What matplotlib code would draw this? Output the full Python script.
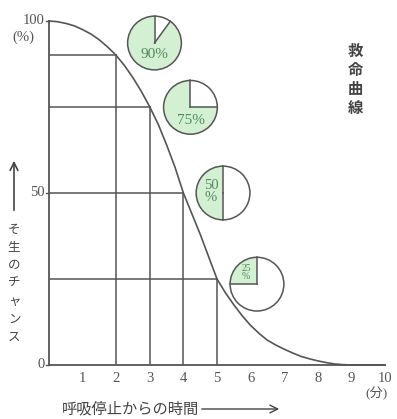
import math
import matplotlib.pyplot as plt
from matplotlib.patches import Wedge, Circle, FancyArrowPatch

plt.rcParams['font.family'] = ['Liberation Serif', 'Noto Sans CJK JP', 'DejaVu Sans']

# survival curve (minutes, %)
minutes = [0, 0.25, 0.5, 0.75, 1, 1.25, 1.5, 1.75, 2, 2.25, 2.5, 2.75, 3, 3.25, 3.5, 3.75,
           4, 4.25, 4.5, 4.75, 5, 5.25, 5.5, 5.75, 6, 6.25, 6.5, 6.75, 7, 7.25, 7.5, 7.75,
           8, 8.25, 8.5, 8.75, 9, 10]
chance = [100, 99.8, 99.3, 98.6, 97.5, 96.2, 94.5, 92.4, 90, 87, 83.5, 79.5, 75, 70, 64, 57.5,
          50, 44, 38, 31.5, 25, 21, 17.5, 14.3, 11.5, 9.2, 7.2, 5.8, 4.6, 3.5, 2.5, 1.8,
          1.2, 0.7, 0.3, 0.1, 0, 0]

# marked points with their pies
mark_min = [2, 3, 4, 5]
mark_pct = [90, 75, 50, 25]
pie_x = [3.14, 4.21, 5.18, 6.19]
pie_y = [93.6, 74.9, 50, 23.5]
pie_text = ['90%', '75%', '50\n%', '25\n%']

line_c = '#555555'
green = '#d3f0d3'
text_green = '#4f8a5c'

fig = plt.figure(figsize=(3.97, 4.19), dpi=100)
ax = fig.add_axes([0.1234, 0.1289, 0.8464, 0.8210])
ax.set_xlim(0, 10)
ax.set_ylim(0, 100)
ax.axis('off')

ax.plot([0, 0], [0, 100], color=line_c, lw=1.3, clip_on=False)
ax.plot([0, 10], [0, 0], color=line_c, lw=1.3, clip_on=False)
ax.plot(minutes, chance, color=line_c, lw=1.2, clip_on=False)

for m, p in zip(mark_min, mark_pct):
    ax.plot([0, m], [p, p], color=line_c, lw=1.1)
    ax.plot([m, m], [0, p], color=line_c, lw=1.1)

# pies drawn in inset axes so they stay round
r_x = 0.84
r_y = 8.2
for cx, cy, p, t in zip(pie_x, pie_y, mark_pct, pie_text):
    ia = ax.inset_axes([cx - r_x, cy - r_y, 2 * r_x, 2 * r_y], transform=ax.transData)
    ia.set_xlim(-1.05, 1.05)
    ia.set_ylim(-1.05, 1.05)
    ia.axis('off')
    ia.add_patch(Wedge((0, 0), 1, 90, 90 + 3.6 * p, facecolor=green, edgecolor='none'))
    ia.add_patch(Circle((0, 0), 1, facecolor='none', edgecolor=line_c, lw=1.1))
    ia.plot([0, 0], [0, 1], color=line_c, lw=1.1)
    a = math.radians(90 + 3.6 * p)
    ia.plot([0, math.cos(a)], [0, math.sin(a)], color=line_c, lw=1.1)
    if p == 90:
        ia.text(0, -0.42, t, ha='center', va='center', fontsize=11, color=text_green)
    elif p == 75:
        ia.text(0, -0.48, t, ha='center', va='center', fontsize=11, color=text_green)
    elif p == 50:
        ia.text(-0.45, 0.05, t, ha='center', va='center', fontsize=10.5, color=text_green,
                linespacing=0.95)
    else:
        ia.text(-0.4, 0.45, t, ha='center', va='center', fontsize=7, color=text_green,
                linespacing=0.85)

# axis labels
for v, lab in [(0, '0'), (50, '50'), (100, '100')]:
    ax.text(-0.12, v, lab, ha='right', va='center', fontsize=10.5, color=line_c)
    ax.plot([-0.1, 0], [v, v], color=line_c, lw=1.0, clip_on=False)
ax.text(-0.75, 95.3, '(%)', ha='center', va='center', fontsize=10.5, color=line_c)

for m in range(1, 11):
    ax.text(m, -4, str(m), ha='center', va='center', fontsize=10.5, color=line_c)
ax.text(9.75, -8.3, '(分)', ha='center', va='center', fontsize=9.5, color=line_c)

fig.text(62 / 397, 1 - 409 / 419, '呼吸停止からの時間', ha='left', va='center',
         fontsize=11, color='#444444')
fig.add_artist(FancyArrowPatch(
    (199 / 397, 1 - 409 / 419), (282 / 397, 1 - 409 / 419), transform=fig.transFigure,
    arrowstyle='->', mutation_scale=14, color='#444444', lw=1.0))

fig.add_artist(FancyArrowPatch(
    (14 / 397, 1 - 213 / 419), (14 / 397, 1 - 158 / 419), transform=fig.transFigure,
    arrowstyle='->', mutation_scale=14, color='#444444', lw=1.2))
ylab = 'そ生のチャンス'
for i, ch in enumerate(ylab):
    fig.text(14 / 397, 1 - (230 + i * 18) / 419, ch, ha='center', va='center',
             fontsize=9, color='#444444')

title = '救命曲線'
for i, ch in enumerate(title):
    fig.text(355 / 397, 1 - (52 + i * 19) / 419, ch, ha='center', va='center',
             fontsize=11, color='#444444', fontweight='bold')

fig.savefig('out.png', dpi=100, facecolor='white')
